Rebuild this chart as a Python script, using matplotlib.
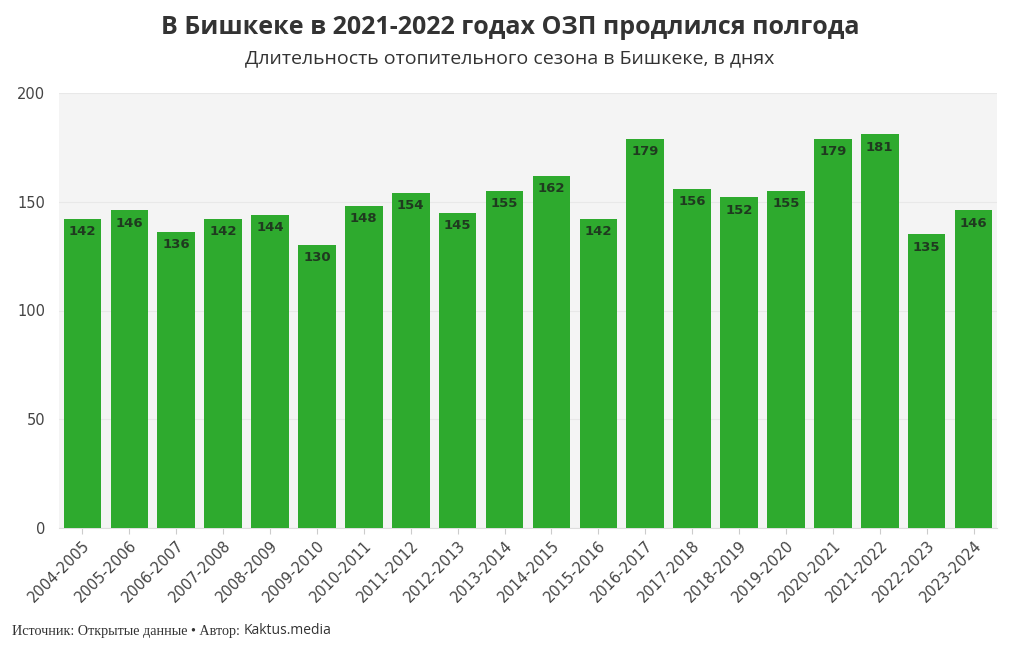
import matplotlib
matplotlib.use("Agg")
import matplotlib.pyplot as plt

seasons = ["2004-2005", "2005-2006", "2006-2007", "2007-2008", "2008-2009",
           "2009-2010", "2010-2011", "2011-2012", "2012-2013", "2013-2014",
           "2014-2015", "2015-2016", "2016-2017", "2017-2018", "2018-2019",
           "2019-2020", "2020-2021", "2021-2022", "2022-2023", "2023-2024"]
days = [142, 146, 136, 142, 144, 130, 148, 154, 145, 155,
        162, 142, 179, 156, 152, 155, 179, 181, 135, 146]
y_ticks = [0, 50, 100, 150, 200]

title = "В Бишкеке в 2021-2022 годах ОЗП продлился полгода"
subtitle = "Длительность отопительного сезона в Бишкеке, в днях"

fig = plt.figure(figsize=(10.2, 6.5), dpi=100)
ax = fig.add_axes([59/1020, 1 - 528/650, (997 - 59)/1020, (528 - 93)/650])
ax.set_facecolor("#f4f4f4")

x = list(range(len(seasons)))
bars = ax.bar(x, days, width=0.8, color="#2eaa2e", zorder=3)
for xi, v in zip(x, days):
    ax.annotate(str(v), (xi, v), xytext=(0, -4.5), textcoords="offset points",
                ha="center", va="top", fontsize=9.5, fontweight="bold",
                color="#1f3a1f", family="DejaVu Sans", zorder=4)

ax.set_xlim(-0.5, len(seasons) - 0.5)
ax.set_ylim(0, 200)
ax.set_yticks(y_ticks)
ax.set_yticklabels([str(t) for t in y_ticks], fontsize=10.5, color="#444444")
ax.set_xticks(x)
ax.set_xticklabels(seasons, rotation=45, ha="right", rotation_mode="anchor",
                   fontsize=10.5, color="#444444")
ax.tick_params(axis="y", length=0, pad=10)
ax.tick_params(axis="x", length=4, color="#cccccc", pad=3)
ax.grid(axis="y", color="#e8e8e8", linewidth=0.8, zorder=0)
for s in ["top", "right", "left"]:
    ax.spines[s].set_visible(False)
ax.spines["bottom"].set_color("#dddddd")

fig.text(0.5, 1 - 28/650, title, ha="center", va="center", fontsize=18,
         fontweight="bold", color="#333333", family="Open Sans")
fig.text(0.5, 1 - 58/650, subtitle, ha="center", va="center", fontsize=14,
         color="#333333", family="Open Sans")

t1 = fig.text(12/1020, 1 - 631/650, "Источник: Открытые данные • Автор: ",
              ha="left", va="center", fontsize=10.2, color="#333333",
              family="Liberation Serif")
fig.canvas.draw()
bb = t1.get_window_extent(renderer=fig.canvas.get_renderer())
fig.text(bb.x1 / 1020, 1 - 631/650, "Kaktus.media", ha="left", va="center",
         fontsize=10, color="#333333", family="Open Sans")

fig.savefig("out.png", dpi=100)
